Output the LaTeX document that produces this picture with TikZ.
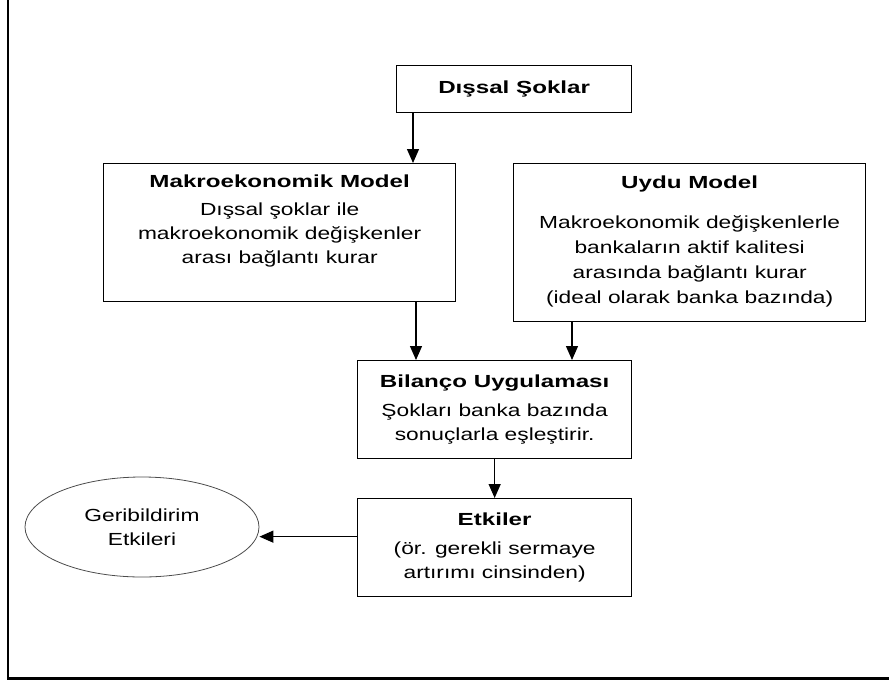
\documentclass[tikz,border=0pt]{standalone}
\usepackage{fontspec}
\setmainfont{Liberation Sans}[FakeStretch=1.3]
\newfontfamily\baslikfont{Liberation Sans}[FakeStretch=1.38]
\usetikzlibrary{arrows.meta,shapes.geometric}

\def\cizgi{1.3pt}
\newcommand{\baslik}[1]{{\baslikfont\bfseries #1}}

\begin{document}
\begin{tikzpicture}[x=1pt, y=-1pt, every node/.style={font=\fontsize{17.5}{24}\selectfont},
	blok/.style={rectangle, draw, line width=\cizgi, inner sep=0pt, anchor=north west},
	ok/.style={-{Triangle[width=12pt,length=14pt]}, line width=\cizgi}]
	
	\useasboundingbox (0,0) rectangle (889,681);
	\draw[line width=2.5pt] (8,0) -- (8,678.5) -- (889,678.5);
	
	\node (dissal) at (396,65) [blok, minimum width=235pt, minimum height=47pt] {\baslik{Dışsal Şoklar}};
	
	\node (makro) at (103,163) [blok] {\parbox[c][138pt][t]{352pt}{\vspace*{11pt}\centering
		\baslik{Makroekonomik Model}\\[4pt] Dışsal şoklar ile\\ makroekonomik değişkenler\\ arası bağlantı kurar}};
	\node (uydu) at (513,163) [blok] {\parbox[c][158pt][t]{352pt}{\vspace*{12pt}\centering
		\baslik{Uydu Model}\\[16pt] Makroekonomik değişkenlerle\\[1pt] bankaların aktif kalitesi\\[1pt] arasında bağlantı kurar\\[1pt] (ideal olarak banka bazında)}};
	
	\node (bilanco) at (357,360) [blok] {\parbox[c][98pt][c]{274pt}{\centering
		\baslik{Bilanço Uygulaması}\\[5pt] Şokları banka bazında\\ sonuçlarla eşleştirir.}};
	\node (etkiler) at (357,498) [blok] {\parbox[c][98pt][c]{274pt}{\centering
		\baslik{Etkiler}\\[5pt] (ör. gerekli sermaye\\ artırımı cinsinden)}};
	
	\node (geri) at (142,527) [ellipse, draw=black!70, line width=0.8pt, minimum width=234pt, minimum height=100pt, inner sep=0pt, align=center] {Geribildirim\\Etkileri};
	
	\draw[ok] ([xshift=17pt]dissal.south west) -- ([xshift=17pt]dissal.south west |- makro.north);
	\draw[ok] ([xshift=59pt]bilanco.north west |- makro.south) -- ([xshift=59pt]bilanco.north west);
	\draw[ok] ([xshift=59pt]uydu.south west) -- ([xshift=59pt]uydu.south west |- bilanco.north);
	\draw[ok] (bilanco.south) -- (etkiler.north);
	\draw[ok] ([yshift=11pt]etkiler.west) -- ([yshift=11pt]etkiler.west -| geri.east);
	
\end{tikzpicture}
\end{document}
